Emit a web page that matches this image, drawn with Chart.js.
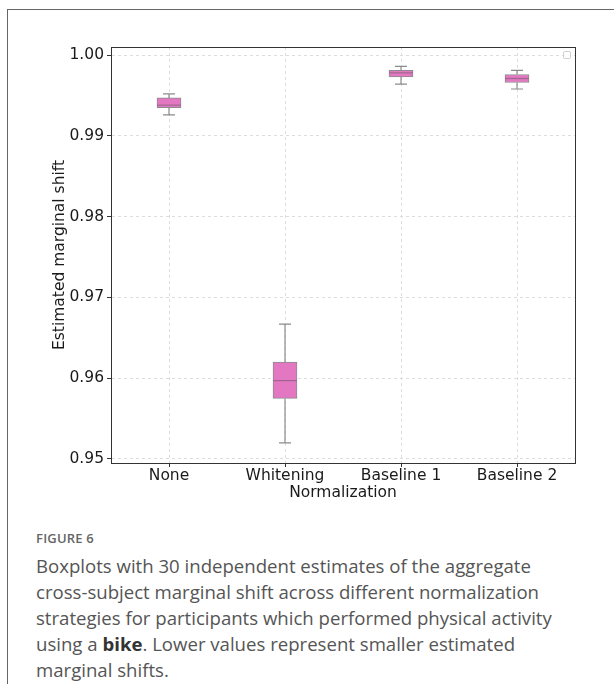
<!DOCTYPE html>
<html>
<head>
<meta charset="utf-8">
<script src="https://cdn.jsdelivr.net/npm/chart.js@4.4.1/dist/chart.umd.min.js"></script>
<style>
  html, body { margin: 0; padding: 0; background: #fff; }
  body { width: 614px; height: 684px; position: relative; overflow: hidden; }
  .frame { position: absolute; left: 7px; top: 9px; right: -2px; bottom: -2px;
           border-top: 1px solid #666; border-left: 1px solid #666; }
  .plot { position: absolute; left: 0; top: 0; width: 614px; height: 520px; }
  .caption { position: absolute; left: 36px; top: 528px; width: 575px; white-space: nowrap;
             font-family: "Open Sans", sans-serif; color: #555; }
  .caption .fig { font-size: 13px; font-weight: 600; color: #666; letter-spacing: 0.2px; line-height: 20px; }
  .caption p { margin: 5px 0 0 0; font-size: 18.6px; line-height: 26px; }
  .caption b { color: #333; }
</style>
</head>
<body>
<div class="frame"></div>
<div class="plot"><canvas id="c" width="614" height="520"></canvas></div>
<div class="caption">
  <div class="fig">FIGURE 6</div>
  <p>Boxplots with 30 independent estimates of the aggregate<br>cross-subject marginal shift across different normalization<br>strategies for participants which performed physical activity<br>using a <b>bike</b>. Lower values represent smaller estimated<br>marginal shifts.</p>
</div>
<script>
// Normalization strategies on the x axis
const categories = ['None', 'Whitening', 'Baseline 1', 'Baseline 2'];
// Five-number summaries of the 30 estimates per strategy
const whiskerLow  = [0.9926, 0.9520, 0.9964, 0.9958];
const quartile1   = [0.9935, 0.9575, 0.9973, 0.9966];
const medians     = [0.9938, 0.9597, 0.9978, 0.9971];
const quartile3   = [0.9947, 0.9620, 0.9981, 0.9976];
const whiskerHigh = [0.9952, 0.9667, 0.9986, 0.9981];
// Y axis tick values
const yTicks = [0.95, 0.96, 0.97, 0.98, 0.99, 1.00];

const boxFill = '#e377c2';
const boxEdge = '#8c8c8c';
const medianColor = '#a0668f';
const axisColor = '#333';
const textColor = '#1a1a1a';
const gridColor = '#dddddd';
const fontFamily = '"DejaVu Sans", sans-serif';
const fontSize = 15.5;

// Whiskers, caps and median lines for each box, placed through the chart scales
const boxDetails = {
  id: 'boxDetails',
  afterDatasetsDraw(chart) {
    const { ctx, scales: { x, y } } = chart;
    const meta = chart.getDatasetMeta(0);
    ctx.save();
    ctx.lineWidth = 1.2;
    categories.forEach((_, i) => {
      const bar = meta.data[i];
      const cx = x.getPixelForValue(i);
      const half = bar.width / 2;
      const cap = half / 2;
      const yLo = y.getPixelForValue(whiskerLow[i]);
      const yQ1 = y.getPixelForValue(quartile1[i]);
      const yQ3 = y.getPixelForValue(quartile3[i]);
      const yHi = y.getPixelForValue(whiskerHigh[i]);
      const yMd = y.getPixelForValue(medians[i]);
      ctx.strokeStyle = boxEdge;
      ctx.beginPath();
      ctx.moveTo(cx, yQ1); ctx.lineTo(cx, yLo);
      ctx.moveTo(cx, yQ3); ctx.lineTo(cx, yHi);
      ctx.moveTo(cx - cap, yLo); ctx.lineTo(cx + cap, yLo);
      ctx.moveTo(cx - cap, yHi); ctx.lineTo(cx + cap, yHi);
      ctx.stroke();
      ctx.strokeStyle = medianColor;
      ctx.beginPath();
      ctx.moveTo(cx - half, yMd); ctx.lineTo(cx + half, yMd);
      ctx.stroke();
    });
    ctx.restore();
  }
};

// Closed frame round the plotting area and the empty legend box in its corner
const plotFrame = {
  id: 'plotFrame',
  afterDraw(chart) {
    const { ctx, chartArea: a } = chart;
    ctx.save();
    ctx.strokeStyle = axisColor;
    ctx.lineWidth = 1;
    ctx.strokeRect(a.left + 0.5, a.top + 0.5, a.right - a.left, a.bottom - a.top);
    ctx.strokeStyle = '#d0d0d0';
    ctx.fillStyle = 'rgba(255,255,255,0.8)';
    const s = 7, bx = a.right - 11.5, by = a.top + 4.5;
    ctx.beginPath();
    ctx.roundRect(bx, by, s, s, 1.5);
    ctx.fill();
    ctx.stroke();
    ctx.restore();
  }
};

new Chart(document.getElementById('c'), {
  type: 'bar',
  data: {
    labels: categories,
    datasets: [{
      label: 'estimates',
      data: categories.map((_, i) => [quartile1[i], quartile3[i]]),
      backgroundColor: boxFill,
      borderColor: boxEdge,
      borderWidth: 1,
      borderSkipped: false,
      barThickness: 24
    }]
  },
  options: {
    responsive: false,
    animation: false,
    events: [],
    layout: { padding: { left: 0, right: 39, top: 47, bottom: 18 } },
    plugins: { legend: { display: false }, tooltip: { enabled: false } },
    scales: {
      x: {
        type: 'category',
        offset: true,
        afterFit: s => { s.height = 39; },
        grid: { offset: false, color: gridColor, lineWidth: 1,
                drawTicks: true, tickLength: 4, tickColor: axisColor, tickBorderDash: [], tickWidth: 1 },
        border: { display: true, color: axisColor, width: 1, dash: [3, 3] },
        ticks: { color: textColor, font: { family: fontFamily, size: fontSize }, padding: 0, maxRotation: 0 },
        title: { display: true, text: 'Normalization', color: textColor,
                 font: { family: fontFamily, size: fontSize }, padding: { top: 0, bottom: 0 } }
      },
      y: {
        type: 'linear',
        min: 0.9495,
        max: 1.001,
        afterFit: s => { s.width = 111; },
        afterBuildTicks: s => { s.ticks = yTicks.map(v => ({ value: v })); },
        grid: { color: gridColor, lineWidth: 1,
                drawTicks: true, tickLength: 4, tickColor: axisColor, tickBorderDash: [], tickWidth: 1 },
        border: { display: true, color: axisColor, width: 1, dash: [3, 3] },
        ticks: { color: textColor, font: { family: fontFamily, size: fontSize }, padding: 3,
                 callback: v => v.toFixed(2) },
        title: { display: true, text: 'Estimated marginal shift', color: textColor,
                 font: { family: fontFamily, size: fontSize }, padding: { top: 51, bottom: 0 } }
      }
    }
  },
  plugins: [boxDetails, plotFrame]
});
</script>
</body>
</html>
